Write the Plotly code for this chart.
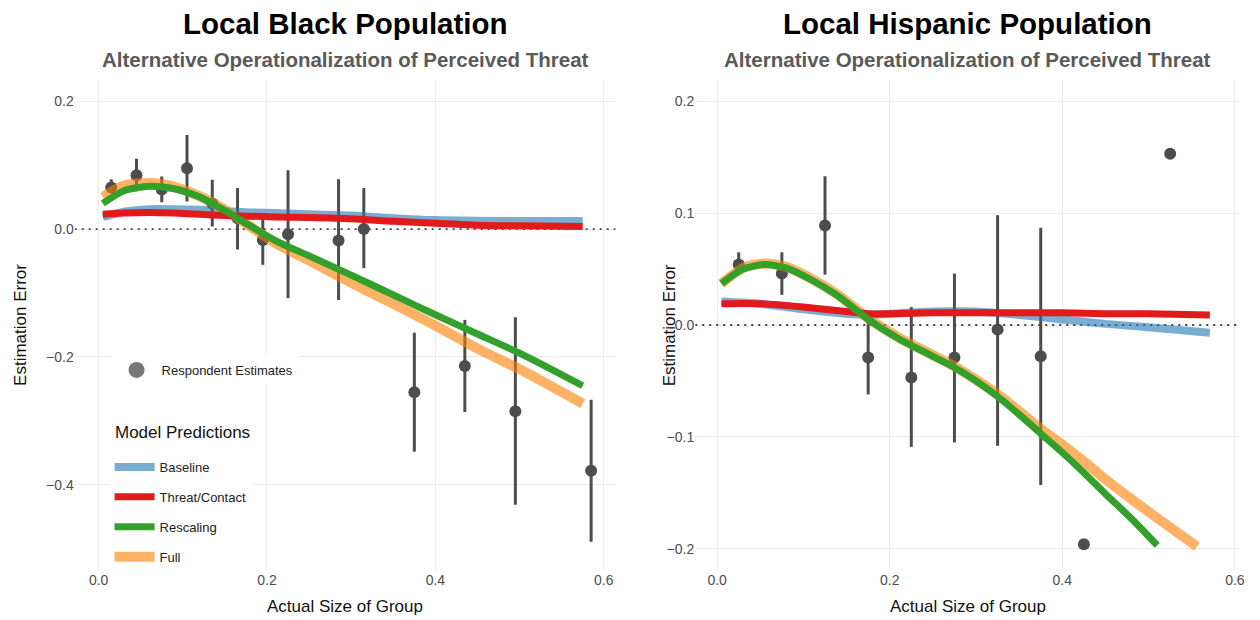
import plotly.graph_objects as go

# ---------------- data: Local Black Population ----------------
b_x = [0.015, 0.045, 0.075, 0.105, 0.135, 0.165, 0.195, 0.225, 0.285, 0.315, 0.375, 0.435, 0.495, 0.585]
b_y = [0.065, 0.084, 0.062, 0.095, 0.040, 0.017, -0.017, -0.008, -0.018, 0.000, -0.255, -0.214, -0.285, -0.378]
b_lo = [0.058, 0.059, 0.042, 0.043, 0.004, -0.032, -0.056, -0.108, -0.111, -0.061, -0.348, -0.286, -0.431, -0.489]
b_hi = [0.078, 0.110, 0.082, 0.147, 0.077, 0.064, 0.022, 0.092, 0.078, 0.064, -0.162, -0.142, -0.138, -0.267]

b_mx = [0.005, 0.03, 0.06, 0.09, 0.12, 0.15, 0.18, 0.21, 0.25, 0.30, 0.35, 0.40, 0.45, 0.50, 0.575]
b_baseline = [0.019, 0.027, 0.031, 0.031, 0.030, 0.028, 0.026, 0.025, 0.023, 0.021, 0.017, 0.014, 0.013, 0.0125, 0.0125]
b_threat = [0.023, 0.025, 0.026, 0.025, 0.023, 0.021, 0.020, 0.019, 0.018, 0.016, 0.012, 0.009, 0.006, 0.005, 0.004]
b_rescale = [0.040, 0.060, 0.067, 0.063, 0.050, 0.029, 0.005, -0.018, -0.042, -0.072, -0.103, -0.134, -0.164, -0.194, -0.245]
b_full = [0.050, 0.068, 0.072, 0.066, 0.051, 0.030, 0.004, -0.022, -0.049, -0.084, -0.117, -0.151, -0.187, -0.219, -0.273]

# ---------------- data: Local Hispanic Population ----------------
h_x = [0.025, 0.075, 0.125, 0.175, 0.225, 0.275, 0.325, 0.375, 0.425, 0.525]
h_y = [0.054, 0.046, 0.089, -0.029, -0.047, -0.029, -0.004, -0.028, -0.196, 0.153]
h_lo = [0.045, 0.027, 0.045, -0.062, -0.109, -0.105, -0.108, -0.143, -0.196, 0.153]
h_hi = [0.065, 0.065, 0.133, 0.004, 0.016, 0.046, 0.098, 0.087, -0.196, 0.153]

h_bx = [0.005, 0.05, 0.10, 0.15, 0.175, 0.20, 0.25, 0.30, 0.35, 0.40, 0.45, 0.50, 0.571]
h_baseline = [0.021, 0.019, 0.014, 0.010, 0.009, 0.010, 0.012, 0.012, 0.009, 0.005, 0.001, -0.002, -0.007]
h_threat = [0.019, 0.019, 0.016, 0.012, 0.010, 0.010, 0.011, 0.011, 0.011, 0.011, 0.010, 0.010, 0.009]

h_rx = [0.005, 0.03, 0.055, 0.08, 0.11, 0.14, 0.175, 0.21, 0.25, 0.275, 0.30, 0.325, 0.35, 0.375, 0.40, 0.425, 0.45, 0.48, 0.51]
h_rescale = [0.037, 0.050, 0.054, 0.051, 0.040, 0.026, 0.005, -0.012, -0.028, -0.038, -0.050, -0.064, -0.080, -0.097, -0.114, -0.132, -0.151, -0.173, -0.197]

h_fx = [0.005, 0.03, 0.055, 0.08, 0.11, 0.14, 0.175, 0.21, 0.25, 0.275, 0.30, 0.325, 0.35, 0.375, 0.40, 0.425, 0.45, 0.50, 0.556]
h_full = [0.037, 0.051, 0.055, 0.052, 0.041, 0.027, 0.006, -0.011, -0.027, -0.037, -0.049, -0.062, -0.077, -0.093, -0.107, -0.122, -0.138, -0.167, -0.198]

x_ticks = [0.0, 0.2, 0.4, 0.6]
left_y_ticks = [0.2, 0.0, -0.2, -0.4]
right_y_ticks = [0.2, 0.1, 0.0, -0.1, -0.2]
left_x_range = [-0.0284, 0.614]
left_y_range = [-0.533, 0.233]
right_x_range = [-0.0254, 0.606]
right_y_range = [-0.219, 0.219]

model_names = ["Baseline", "Threat/Contact", "Rescaling", "Full"]
model_colors = ["rgba(31,120,180,0.6)", "#e31a1c", "#33a02c", "rgba(255,127,0,0.6)"]
model_widths = [8, 7, 7, 10]

PT = "#4d4d4d"
FONT = "Liberation Sans, Arial, sans-serif"

fig = go.Figure()


def add_panel(xa, ya, xr, px, py, lo, hi, models, show):
    # dotted reference line at zero error
    fig.add_trace(go.Scatter(
        x=xr, y=[0, 0], mode="lines", xaxis=xa, yaxis=ya, showlegend=False,
        line=dict(color="#444444", width=1.8, dash="2px,5px"), hoverinfo="skip"))
    fig.add_trace(go.Scatter(
        x=px, y=py, mode="markers", xaxis=xa, yaxis=ya, showlegend=False,
        marker=dict(size=12, color=PT),
        error_y=dict(type="data", symmetric=False,
                     array=[h - v for h, v in zip(hi, py)],
                     arrayminus=[v - l for l, v in zip(lo, py)],
                     color=PT, thickness=3, width=0),
        hoverinfo="skip"))
    # draw order: Baseline, Full, Threat/Contact, Rescaling
    for idx in [0, 3, 1, 2]:
        mx, my = models[idx]
        fig.add_trace(go.Scatter(
            x=mx, y=my, mode="lines", xaxis=xa, yaxis=ya,
            name=model_names[idx], legend="legend2", legendgroup=model_names[idx],
            legendrank=idx + 1, showlegend=show,
            line=dict(color=model_colors[idx], width=model_widths[idx], shape="spline", smoothing=0.7),
            hoverinfo="skip"))


add_panel("x", "y", left_x_range, b_x, b_y, b_lo, b_hi,
          [(b_mx, b_baseline), (b_mx, b_threat), (b_mx, b_rescale), (b_mx, b_full)], True)
add_panel("x2", "y2", right_x_range, h_x, h_y, h_lo, h_hi,
          [(h_bx, h_baseline), (h_bx, h_threat), (h_rx, h_rescale), (h_fx, h_full)], False)

# legend-only entry for respondent estimates
fig.add_trace(go.Scatter(x=[None], y=[None], mode="markers", name="Respondent Estimates",
                         marker=dict(size=16, color="#777777"), legend="legend", showlegend=True))

W, H = 1260, 620
L_dom = [75 / W, 618 / W]
R_dom = [698 / W, 1245 / W]
Y_dom = [1 - 570 / H, 1 - 80 / H]

axis_common = dict(showgrid=True, gridcolor="#ebebeb", gridwidth=1.4, zeroline=False,
                   showline=False, ticks="", tickfont=dict(size=14, color="#4d4d4d", family=FONT),
                   tickformat=".1f")

fig.update_layout(
    width=W, height=H, margin=dict(l=0, r=0, t=0, b=0),
    paper_bgcolor="white", plot_bgcolor="white",
    font=dict(family=FONT, color="#222"),
    xaxis=dict(domain=L_dom, range=left_x_range, tickvals=x_ticks, anchor="y", **axis_common),
    yaxis=dict(domain=Y_dom, range=left_y_range, tickvals=left_y_ticks, anchor="x", **axis_common),
    xaxis2=dict(domain=R_dom, range=right_x_range, tickvals=x_ticks, anchor="y2", **axis_common),
    yaxis2=dict(domain=Y_dom, range=right_y_range, tickvals=right_y_ticks, anchor="x2", **axis_common),
    legend=dict(x=112 / W, y=1 - 370 / H, xanchor="left", yanchor="middle",
                bgcolor="white", font=dict(size=13, color="#222"), itemwidth=40),
    legend2=dict(x=110 / W, y=1 - 452 / H, xanchor="left", yanchor="top",
                 bgcolor="white", font=dict(size=13, color="#222"), itemwidth=40,
                 tracegroupgap=10, traceorder="grouped"),
    showlegend=True,
)

ann = []
for cx, title in [(346.5, "Local Black Population"), (971.5, "Local Hispanic Population")]:
    ann.append(dict(text="<b>%s</b>" % title, x=cx / W, y=1 - 23 / H, xref="paper", yref="paper",
                    showarrow=False, font=dict(size=29.5, color="black", family=FONT),
                    xanchor="center", yanchor="middle"))
    ann.append(dict(text="<b>Alternative Operationalization of Perceived Threat</b>", x=cx / W,
                    y=1 - 59 / H, xref="paper", yref="paper", showarrow=False,
                    font=dict(size=20.5, color="#5a5a5a", family=FONT),
                    xanchor="center", yanchor="middle"))
    ann.append(dict(text="Actual Size of Group", x=cx / W, y=1 - 606 / H, xref="paper", yref="paper",
                    showarrow=False, font=dict(size=17, color="#111", family=FONT),
                    xanchor="center", yanchor="middle"))
for lx in [20, 672]:
    ann.append(dict(text="Estimation Error", x=lx / W, y=1 - 325 / H, xref="paper", yref="paper",
                    showarrow=False, textangle=-90, font=dict(size=17, color="#111", family=FONT),
                    xanchor="center", yanchor="middle"))
# legend heading for the model-prediction lines
ann.append(dict(text="Model Predictions", x=106 / W, y=1 - 432 / H, xref="paper", yref="paper",
                showarrow=False, font=dict(size=17, color="#111", family=FONT),
                xanchor="left", yanchor="middle", bgcolor="white", borderpad=8))
fig.update_layout(annotations=ann)

fig.write_html("out.html")
